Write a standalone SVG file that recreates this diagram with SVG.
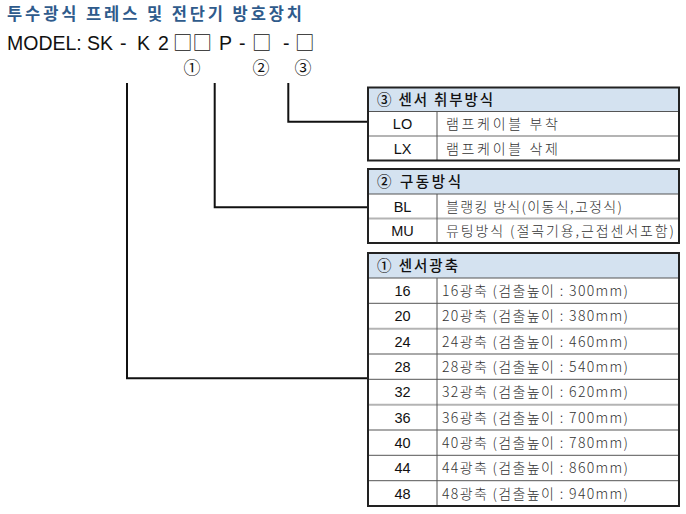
<svg xmlns="http://www.w3.org/2000/svg" width="686" height="514" viewBox="0 0 686 514">
<style>
.t{font-family:"Liberation Sans","Noto Sans CJK KR",sans-serif;}
.k{font-family:"Noto Sans CJK KR","Liberation Sans",sans-serif;}
.title{font-size:16.5px;font-weight:bold;fill:#2f5b8c;}
.model{font-size:19.5px;fill:#111;}
.circ{font-size:17px;fill:#111;}
.hd{font-size:14.5px;font-weight:500;fill:#111;}
.code{font-size:14.5px;fill:#111;text-anchor:middle;}
.body{font-size:14px;font-weight:300;fill:#333;}
.hfill{fill:#d4e2f0;}
.border{fill:none;stroke:#222;stroke-width:2;}
.rl{stroke:#555;stroke-width:1;}
.gl{stroke:#b4b4b4;stroke-width:2;}
.conn{fill:none;stroke:#111;stroke-width:2;}
</style>
<rect width="686" height="514" fill="#fff"/>
<g id="title">
<text class="k title" x="7" y="20" textLength="295" lengthAdjust="spacing">투수광식 프레스 및 전단기 방호장치</text>
</g>
<g id="model">
<text class="t model" y="50"><tspan x="7">MODEL:</tspan><tspan x="87">SK</tspan><tspan x="120">-</tspan><tspan x="137">K</tspan><tspan x="158">2</tspan></text>
<text class="t model" y="50"><tspan x="219">P</tspan><tspan x="239">-</tspan><tspan x="283">-</tspan></text>
<text class="k model" y="50"><tspan x="173">□□</tspan><tspan x="252">□</tspan><tspan x="295">□</tspan></text>
<text class="k circ" y="74" text-anchor="middle"><tspan x="192">①</tspan><tspan x="261">②</tspan><tspan x="303">③</tspan></text>
</g>
<g id="connectors">
<path class="conn" d="M127,83 V378.3 H368"/>
<path class="conn" d="M214.7,83 V207.3 H368"/>
<path class="conn" d="M288.3,83 V121.7 H368"/>
</g>
<g id="table3">
<rect class="hfill" x="368" y="87.5" width="311" height="24"/>
<line class="rl" x1="368" y1="111.5" x2="679" y2="111.5"/>
<line class="gl" x1="368" y1="136" x2="679" y2="136"/>
<line class="rl" x1="437" y1="111.5" x2="437" y2="160.5"/>
<rect class="border" x="368" y="87.5" width="311" height="73"/>
<text class="k hd" x="377" y="104.5" textLength="116" lengthAdjust="spacing">③ 센서 취부방식</text>
<text class="t code" x="402.5" y="129">LO</text>
<text class="t code" x="402.5" y="153.5">LX</text>
<text class="k body" x="446" y="129" textLength="112" lengthAdjust="spacing">램프케이블 부착</text>
<text class="k body" x="446" y="153.5" textLength="112" lengthAdjust="spacing">램프케이블 삭제</text>
</g>
<g id="table2">
<rect class="hfill" x="368" y="169" width="311" height="25"/>
<line class="rl" x1="368" y1="194" x2="679" y2="194"/>
<line class="gl" x1="368" y1="218.5" x2="679" y2="218.5"/>
<line class="rl" x1="437" y1="194" x2="437" y2="243"/>
<rect class="border" x="368" y="169" width="311" height="74"/>
<text class="k hd" x="377" y="186.5" textLength="84" lengthAdjust="spacing">② 구동방식</text>
<text class="t code" x="402.5" y="211.5">BL</text>
<text class="t code" x="402.5" y="236">MU</text>
<text class="k body" x="446" y="211.5" textLength="176" lengthAdjust="spacing">블랭킹 방식(이동식,고정식)</text>
<text class="k body" x="446" y="236" textLength="228" lengthAdjust="spacing">뮤팅방식 (절곡기용,근접센서포함)</text>
</g>
<g id="table1">
<rect class="hfill" x="368" y="253" width="311" height="25"/>
<line class="rl" x1="368" y1="278" x2="679" y2="278"/>
<line class="rl" x1="368" y1="303.3" x2="679" y2="303.3"/>
<line class="gl" x1="368" y1="328.7" x2="679" y2="328.7"/>
<line class="rl" x1="368" y1="354" x2="679" y2="354"/>
<line class="rl" x1="368" y1="379.3" x2="679" y2="379.3"/>
<line class="gl" x1="368" y1="404.7" x2="679" y2="404.7"/>
<line class="rl" x1="368" y1="430" x2="679" y2="430"/>
<line class="rl" x1="368" y1="455.3" x2="679" y2="455.3"/>
<line class="rl" x1="368" y1="480.7" x2="679" y2="480.7"/>
<line class="rl" x1="437" y1="278" x2="437" y2="506"/>
<rect class="border" x="368" y="253" width="311" height="253"/>
<text class="k hd" x="377" y="270.5" textLength="81" lengthAdjust="spacing">① 센서광축</text>
<text class="t code" x="402.5" y="296">16</text>
<text class="t code" x="402.5" y="321.3">20</text>
<text class="t code" x="402.5" y="346.6">24</text>
<text class="t code" x="402.5" y="372">28</text>
<text class="t code" x="402.5" y="397.3">32</text>
<text class="t code" x="402.5" y="422.6">36</text>
<text class="t code" x="402.5" y="448">40</text>
<text class="t code" x="402.5" y="473.3">44</text>
<text class="t code" x="402.5" y="498.6">48</text>
<text class="k body" x="442" y="296" textLength="186" lengthAdjust="spacing">16광축 (검출높이 : 300mm)</text>
<text class="k body" x="442" y="321.3" textLength="186" lengthAdjust="spacing">20광축 (검출높이 : 380mm)</text>
<text class="k body" x="442" y="346.6" textLength="186" lengthAdjust="spacing">24광축 (검출높이 : 460mm)</text>
<text class="k body" x="442" y="372" textLength="186" lengthAdjust="spacing">28광축 (검출높이 : 540mm)</text>
<text class="k body" x="442" y="397.3" textLength="186" lengthAdjust="spacing">32광축 (검출높이 : 620mm)</text>
<text class="k body" x="442" y="422.6" textLength="186" lengthAdjust="spacing">36광축 (검출높이 : 700mm)</text>
<text class="k body" x="442" y="448" textLength="186" lengthAdjust="spacing">40광축 (검출높이 : 780mm)</text>
<text class="k body" x="442" y="473.3" textLength="186" lengthAdjust="spacing">44광축 (검출높이 : 860mm)</text>
<text class="k body" x="442" y="498.6" textLength="186" lengthAdjust="spacing">48광축 (검출높이 : 940mm)</text>
</g>
</svg>
